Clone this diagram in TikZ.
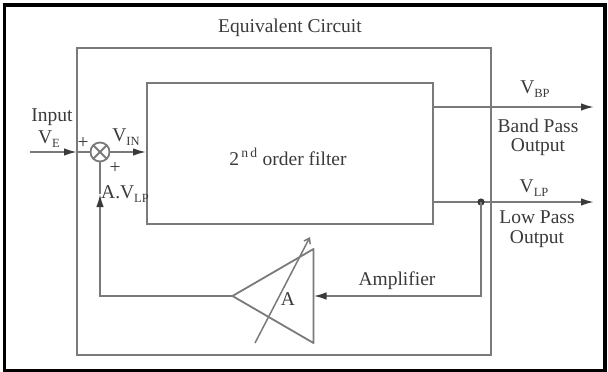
\documentclass[tikz,border=0pt]{standalone}
\usepackage{fontspec}
\setmainfont{Liberation Serif}
\usetikzlibrary{arrows.meta}
\definecolor{ln}{HTML}{7A7A7A}
\definecolor{tx}{HTML}{3A3A3A}
\newcommand\sbs[1]{\raisebox{-0.45ex}{\fontsize{12.5}{13}\selectfont #1}}
\tikzset{
  wire/.style={draw=ln, line width=1.8pt},
  arr/.style={wire, -{Latex[length=13pt,width=7.5pt,fill=tx,color=tx]}},
  lbl/.style={text=tx, font=\fontsize{19.5}{22}\selectfont, inner sep=0pt, align=center},
}
\begin{document}
\begin{tikzpicture}[x=1pt,y=-1pt]
\useasboundingbox (0,0) rectangle (608,372);
% outer frame
\draw[black, line width=3.5pt] (4.5,5) rectangle (605,370.5);
% equivalent circuit box
\draw[wire] (77,48) rectangle (491,355);
\node[lbl] (title) at (290,28) {Equivalent Circuit};
% filter
\node[wire, minimum width=286pt, minimum height=141pt, inner sep=0pt] (filter) at (290,153.5) {};
\node[lbl] (ftext) at (288,157) {2\textsuperscript{\,n\,d} order filter};
% summing junction
\node[wire, circle, minimum size=19pt, inner sep=0pt] (sum) at (100,152) {};
\draw[wire] (sum.45) -- (sum.225);
\draw[wire] (sum.135) -- (sum.315);
% input
\coordinate (inp) at (30,152);
\coordinate (inb) at (77,152);
\draw[arr] (inp) -- (inb);
\draw[wire] (inb) -- (sum.west);
\draw[arr] (sum.east) -- (filter.west |- sum.east);
% outputs
\coordinate (bpS) at (433,107);
\coordinate (bpE) at (594,107);
\coordinate (lpS) at (433,202);
\coordinate (lpE) at (594,202);
\coordinate (tap) at (481,202);
\draw[arr] (bpS) -- (bpE);
\draw[arr] (lpS) -- (lpE);
\fill[tx] (tap) circle (3.6pt);
% amplifier triangle
\coordinate (ampO) at (232.5,296);
\coordinate (ampT) at (313.5,249);
\coordinate (ampB) at (313.5,343);
\coordinate (ampI) at (313.5,296);
\draw[wire, line join=round] (ampO) -- (ampT) -- (ampB) -- cycle;
\coordinate (dgS) at (255,343);
\coordinate (dgE) at (310,237);
\draw[wire, line width=1.5pt, -{Straight Barb[length=5pt,width=7pt]}] (dgS) -- (dgE);
\node[lbl] (A) at (288,299) {A};
% feedback
\coordinate (fbR) at (481,296);
\draw[arr] (tap) -- (fbR) -- (ampI);
\coordinate (fbL) at (100,296);
\coordinate (fbT) at (100,194);
\draw[arr] (ampO) -- (fbL) -- (fbT);
\draw[wire] (fbT) -- (sum.south);
% labels
\node[lbl] (inputL) at (52,117) {Input};
\node[lbl] (ve) at (49,139) {V\sbs{E}};
\node[lbl] (p1) at (83,143) {+};
\node[lbl] (p2) at (115,168) {+};
\node[lbl] (vin) at (126,137) {V\sbs{IN}};
\node[lbl, anchor=west] (avlp) at (101,194) {A.V\sbs{LP}};
\node[lbl] (vbp) at (535,89) {V\sbs{BP}};
\node[lbl] (bp1) at (538,126) {Band Pass};
\node[lbl] (bp2) at (538,147.5) {Output};
\node[lbl] (vlp) at (534,188) {V\sbs{LP}};
\node[lbl] (lp1) at (537,217) {Low Pass};
\node[lbl] (lp2) at (537,239) {Output};
\node[lbl] (ampL) at (397,281) {Amplifier};
\end{tikzpicture}
\end{document}
